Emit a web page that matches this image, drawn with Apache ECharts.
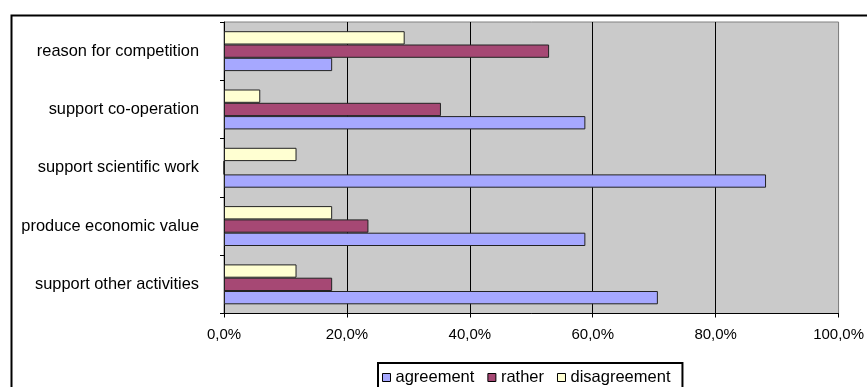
<!DOCTYPE html>
<html>
<head>
<meta charset="utf-8">
<script src="https://cdn.jsdelivr.net/npm/echarts@6/dist/echarts.min.js"></script>
<style>
  html, body { margin: 0; padding: 0; background: #fff; }
  #chart { width: 867px; height: 387px; }
</style>
</head>
<body>
<div id="chart"></div>
<script>
// Categories listed from the bottom of the axis upwards
const categories = [
  'support other activities',
  'produce economic value',
  'support scientific work',
  'support co-operation',
  'reason for competition'
];
const seriesNames = ['agreement', 'rather', 'disagreement'];
const agreement = [70.6, 58.8, 88.2, 58.8, 17.6];
const rather = [17.6, 23.5, 0, 35.3, 52.9];
const disagreement = [11.8, 17.6, 11.8, 5.9, 29.4];
const xTicks = [0, 20, 40, 60, 80, 100];

const colors = ['#A6A8FF', '#A64874', '#FFFFD2'];
const font = 'Liberation Sans, Arial, sans-serif';

const chart = echarts.init(document.getElementById('chart'), null, { renderer: 'canvas' });

const values = [agreement, rather, disagreement];
// Bars of one category stack top-down in series order, so add them reversed
// to keep "agreement" at the bottom of each group.
const series = seriesNames.map((name, i) => ({
  name,
  type: 'bar',
  data: values[i],
  barWidth: 13.3,
  barGap: '0%',
  itemStyle: { color: colors[i], borderColor: '#222', borderWidth: 1 },
  emphasis: { disabled: true },
  animation: false
})).reverse();

chart.setOption({
  animation: false,
  graphic: [{
    type: 'rect',
    left: 9, top: 13,
    shape: { width: 900, height: 500 },
    style: { fill: 'none', stroke: '#000', lineWidth: 2 },
    z: 0
  }],
  grid: {
    left: 224, top: 22, right: 26, bottom: 73.5,
    show: true,
    backgroundColor: '#CACACA',
    borderColor: '#808080',
    borderWidth: 1
  },
  legend: {
    data: seriesNames,
    left: 378, top: 363,
    orient: 'horizontal',
    backgroundColor: '#fff',
    borderColor: '#000',
    borderWidth: 2,
    borderRadius: 0,
    padding: [6, 12, 6, 4],
    itemGap: 13,
    itemWidth: 8,
    itemHeight: 8,
    icon: 'rect',
    itemStyle: { borderColor: '#000', borderWidth: 1 },
    textStyle: { fontFamily: font, fontSize: 16.5, color: '#000' }
  },
  xAxis: {
    type: 'value',
    min: 0, max: 100, interval: 20,
    axisLine: { show: true, lineStyle: { color: '#000', width: 1 } },
    axisTick: { show: true, length: 4, lineStyle: { color: '#000' } },
    axisLabel: {
      margin: 14,
      fontFamily: font, fontSize: 15, color: '#000',
      formatter: v => xTicks.includes(v) ? v.toFixed(1).replace('.', ',') + '%' : ''
    },
    splitLine: {
      show: true,
      lineStyle: { color: ['#000', '#000', '#000', '#000', '#000', '#808080'], width: 1 }
    }
  },
  yAxis: {
    type: 'category',
    data: categories,
    axisLine: { show: true, lineStyle: { color: '#000', width: 1 } },
    axisTick: { show: true, length: 4, lineStyle: { color: '#000' } },
    axisLabel: {
      margin: 25,
      fontFamily: font, fontSize: 16.4, color: '#000'
    },
    splitLine: { show: false }
  },
  series
});
</script>
</body>
</html>
